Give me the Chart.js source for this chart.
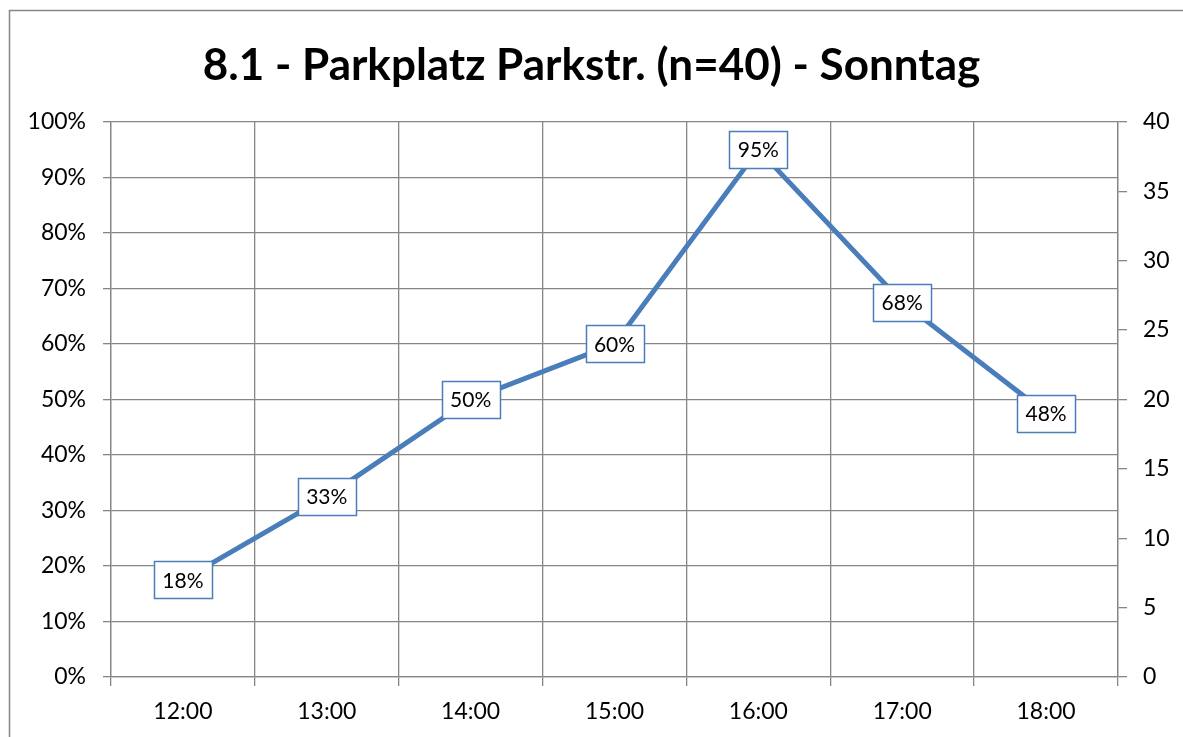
<!DOCTYPE html>
<html>
<head>
<meta charset="utf-8">
<script src="https://cdn.jsdelivr.net/npm/chart.js@4/dist/chart.umd.min.js"></script>
<style>
  html, body { margin: 0; padding: 0; background: #fff; }
  #wrap { width: 1183px; height: 737px; position: relative; }
</style>
</head>
<body>
<div id="wrap"><canvas id="myChart"></canvas></div>
<script>
const hours = ["12:00", "13:00", "14:00", "15:00", "16:00", "17:00", "18:00"]
// Auslastung in Prozent (n=40 Stellplätze)
const occupancy = [17.5, 32.5, 50, 60, 95, 67.5, 47.5]
const percentTicks = [0, 10, 20, 30, 40, 50, 60, 70, 80, 90, 100]
const countTicks = [0, 5, 10, 15, 20, 25, 30, 35, 40]

const fontName = "Lato"
const gridColor = "#868686"
const lineColor = "#4a7ebb"

const ctx = document.getElementById("myChart").getContext("2d")
const myChart = new Chart(ctx, {
  type: "line",
  data: {
    labels: hours,
    datasets: [
      {
        label: "Auslastung",
        data: occupancy,
        borderColor: lineColor,
        borderWidth: 5,
        pointRadius: 0,
        tension: 0,
        yAxisID: "y",
      },
    ],
  },
  options: {
    responsive: true,
    maintainAspectRatio: false,
    animation: false,
    layout: { padding: { left: 0, right: 0, top: 0, bottom: 0 } },
    plugins: {
      legend: { display: false },
      tooltip: { enabled: false },
      title: {
        display: true,
        text: "8.1 - Parkplatz Parkstr. (n=40) - Sonntag",
        color: "#000",
        font: { family: fontName, size: 44, weight: "bold" },
        padding: { top: 39, bottom: 30 },
      },
    },
    scales: {
      x: {
        offset: true,
        grid: { offset: true, color: gridColor, lineWidth: 1.3, tickLength: 9 },
        border: { color: gridColor, width: 1.3 },
        ticks: { color: "#000", font: { family: fontName, size: 23 }, padding: 12, maxRotation: 0 },
        afterFit: (scale) => { scale.height = 60 },
      },
      y: {
        position: "left",
        min: 0,
        max: 100,
        afterBuildTicks: (scale) => { scale.ticks = percentTicks.map((v) => ({ value: v })) },
        grid: { color: gridColor, lineWidth: 1.3, tickLength: 8 },
        border: { color: gridColor, width: 1.3 },
        ticks: {
          color: "#000",
          font: { family: fontName, size: 23 },
          padding: 17,
          callback: (v) => v + "%",
        },
        afterFit: (scale) => { scale.width = 111 },
      },
      y2: {
        position: "right",
        min: 0,
        max: 40,
        afterBuildTicks: (scale) => { scale.ticks = countTicks.map((v) => ({ value: v })) },
        grid: { drawOnChartArea: false, color: gridColor, lineWidth: 1.3, tickLength: 9 },
        border: { color: gridColor, width: 1.3 },
        ticks: { color: "#000", font: { family: fontName, size: 23 }, padding: 16 },
        afterFit: (scale) => { scale.width = 65 },
      },
    },
  },
  plugins: [
    {
      id: "outerFrame",
      beforeDraw: function (chart) {
        const c = chart.ctx
        c.save()
        c.strokeStyle = "#868686"
        c.lineWidth = 1.5
        c.beginPath()
        c.moveTo(9.5, chart.height + 2)
        c.lineTo(9.5, 10.5)
        c.lineTo(chart.width + 2, 10.5)
        c.stroke()
        c.restore()
      },
    },
    {
      id: "valueBoxes",
      afterDatasetsDraw: function (chart) {
        const c = chart.ctx
        const meta = chart.getDatasetMeta(0)
        c.save()
        c.font = "21px " + fontName
        c.textAlign = "center"
        c.textBaseline = "middle"
        meta.data.forEach((pt, i) => {
          const text = Math.round(occupancy[i]) + "%"
          const w = 58
          const h = 37
          const x = Math.round(pt.x - w / 2) + 0.5
          const y = Math.round(pt.y - h / 2) + 0.5
          c.fillStyle = "#fff"
          c.fillRect(x, y, w, h)
          c.strokeStyle = lineColor
          c.lineWidth = 1.5
          c.strokeRect(x, y, w, h)
          c.fillStyle = "#000"
          c.fillText(text, pt.x, pt.y + 1)
        })
        c.restore()
      },
    },
  ],
})
</script>
</body>
</html>
